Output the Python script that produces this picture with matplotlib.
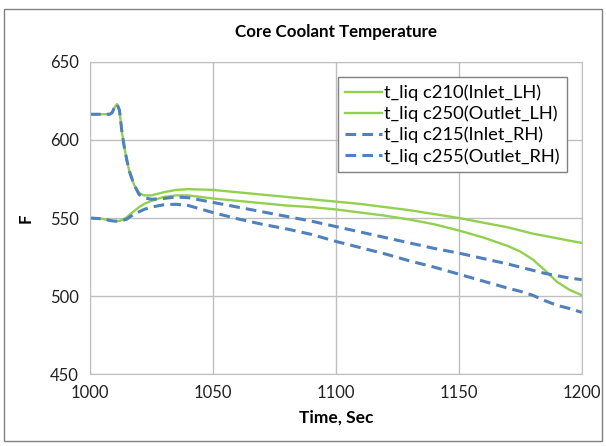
import matplotlib
matplotlib.use('Agg')
import matplotlib.pyplot as plt
from matplotlib.patches import Rectangle

# time axis shared by all four series (sec)
time = [1000, 1005, 1008, 1009, 1010, 1011, 1012, 1013, 1014, 1015, 1016, 1018,
        1020, 1022, 1025, 1030, 1035, 1040, 1050, 1060, 1070, 1080, 1090, 1100,
        1110, 1120, 1130, 1140, 1150, 1160, 1170, 1175, 1180, 1185, 1190, 1195, 1200]

inlet_lh = [550, 549.5, 548.5, 548.2, 548, 548, 548.2, 548.8, 549.5, 550.5, 552, 554.5,
            557, 559, 561, 563.5, 564.5, 564.5, 562.5, 561, 559.5, 558, 557, 555.5,
            553.5, 551.5, 549, 546, 542, 537.5, 532, 528.5, 523.5, 516.5, 509, 504, 500.5]

outlet_lh = [616.5, 616.5, 616.5, 617.5, 621, 623, 619, 605, 595, 587, 580, 571,
             566, 564.5, 564.5, 566.5, 568, 568.5, 568, 566.5, 565, 563.5, 562, 560.5,
             559, 557, 555, 552.5, 550, 547, 544, 542, 540, 538.5, 537, 535.5, 534]

inlet_rh = [550, 549.5, 548.5, 548.2, 548, 548, 548, 548.3, 548.8, 549.3, 550.5, 552.5,
            554, 555.5, 557, 558.5, 558.8, 558, 553.5, 549.5, 546, 543, 539.5, 535,
            531, 527, 522.5, 518.5, 514, 509.5, 505, 503, 500.5, 497, 494, 492, 489.5]

outlet_rh = [616.5, 616.5, 616.5, 617.5, 621, 623, 619, 605, 595, 587, 580, 571,
             565, 563, 562, 562.5, 563.5, 563, 560, 557, 554, 551, 548, 544.5,
             541, 537.5, 534, 530.5, 527.5, 524, 520.5, 518.5, 516.5, 514.5, 513, 511.5, 510.5]

labels = ['t_liq c210(Inlet_LH)', 't_liq c250(Outlet_LH)',
          't_liq c215(Inlet_RH)', 't_liq c255(Outlet_RH)']

plt.rcParams['font.family'] = ['Lato', 'DejaVu Sans']

green = '#92D050'
blue = '#4F81BD'

fig = plt.figure(figsize=(6.06, 4.46), dpi=100)
ax = fig.add_axes([0.1485, 0.1614, 0.8115, 0.6996])

ax.plot(time, inlet_lh, color=green, linewidth=1.7, label=labels[0])
ax.plot(time, outlet_lh, color=green, linewidth=1.7, label=labels[1])
ax.plot(time, inlet_rh, color=blue, linewidth=2.2, linestyle=(0, (3.5, 2)), label=labels[2])
ax.plot(time, outlet_rh, color=blue, linewidth=2.2, linestyle=(0, (3.5, 2)), label=labels[3])

ax.set_xlim(1000, 1200)
ax.set_ylim(450, 650)
ax.set_xticks([1000, 1050, 1100, 1150, 1200])
ax.set_yticks([450, 500, 550, 600, 650])
ax.grid(True, color='#BFBFBF', linewidth=1)
ax.set_axisbelow(True)
for s in ax.spines.values():
    s.set_color('#BFBFBF')
ax.tick_params(length=0, labelsize=12, colors='#222222', pad=8)

ax.set_title('Core Coolant Temperature', fontsize=12.2, fontweight='bold', pad=18)
ax.set_xlabel('Time, Sec', fontsize=12.5, fontweight='bold', labelpad=6)
ax.set_ylabel('F', fontsize=12, fontweight='bold', labelpad=12)

leg = ax.legend(loc='upper right', bbox_to_anchor=(0.969, 0.951), fontsize=13.2,
                fancybox=False, framealpha=1, edgecolor='#808080',
                handlelength=2.0, handletextpad=0.1, borderpad=0.4, labelspacing=0.25,
                borderaxespad=0)
leg.get_frame().set_linewidth(1)

fig.patches.append(Rectangle((0.007, 0.012), 0.986, 0.968, transform=fig.transFigure,
                             fill=False, edgecolor='#808080', linewidth=1))

fig.savefig('out.png', dpi=100)
